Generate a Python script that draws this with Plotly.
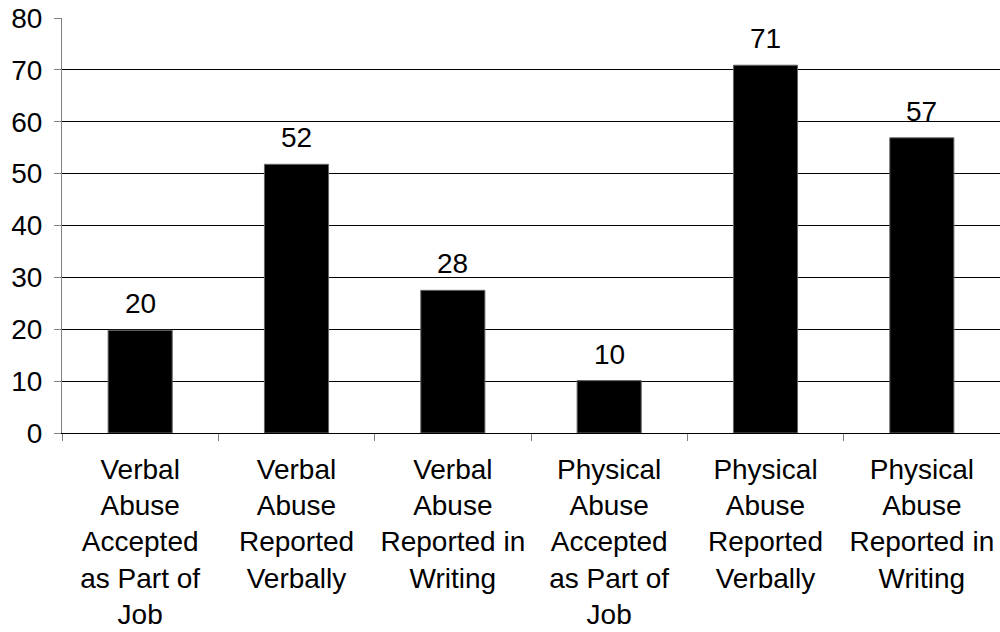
import plotly.graph_objects as go

categories = [
    "Verbal<br>Abuse<br>Accepted<br>as Part of<br>Job",
    "Verbal<br>Abuse<br>Reported<br>Verbally",
    "Verbal<br>Abuse<br>Reported in<br>Writing",
    "Physical<br>Abuse<br>Accepted<br>as Part of<br>Job",
    "Physical<br>Abuse<br>Reported<br>Verbally",
    "Physical<br>Abuse<br>Reported in<br>Writing",
]
values = [19.8, 51.8, 27.5, 10.1, 70.9, 56.9]
y_ticks = [0, 10, 20, 30, 40, 50, 60, 70, 80]

FONT = "Liberation Sans, Arial, sans-serif"
SIZE = 28

fig = go.Figure()
fig.add_trace(go.Bar(
    x=categories,
    y=values,
    marker=dict(color="black", line=dict(color="#666666", width=1)),
    hoverinfo="skip",
))

# value labels above each bar
for c, v in zip(categories, values):
    fig.add_annotation(
        x=c, y=v, text=f"{v:.0f}", showarrow=False,
        yanchor="bottom", yshift=9,
        font=dict(family=FONT, size=SIZE, color="black"),
    )

fig.update_layout(
    width=1000, height=632,
    margin=dict(l=62, r=0, t=18, b=199),
    paper_bgcolor="white", plot_bgcolor="white",
    bargap=0.59,
    showlegend=False,
    font=dict(family=FONT, size=SIZE, color="black"),
)
fig.update_xaxes(
    type="category",
    tickson="boundaries",
    ticks="outside", ticklen=7, tickcolor="#808080", tickwidth=1,
    showline=True, linecolor="black", linewidth=1,
    showgrid=False,
    automargin=False,
    ticklabelstandoff=11,
    tickfont=dict(family=FONT, size=SIZE, color="black"),
)
fig.update_yaxes(
    range=[0, 80],
    tickvals=y_ticks,
    ticks="outside", ticklen=7, tickcolor="#808080", tickwidth=1,
    showline=True, linecolor="#808080", linewidth=1,
    showgrid=True, gridcolor="black", gridwidth=1,
    zeroline=False,
    automargin=False,
    ticklabelstandoff=6,
    tickfont=dict(family=FONT, size=SIZE, color="black"),
)

fig.write_html("out.html")
